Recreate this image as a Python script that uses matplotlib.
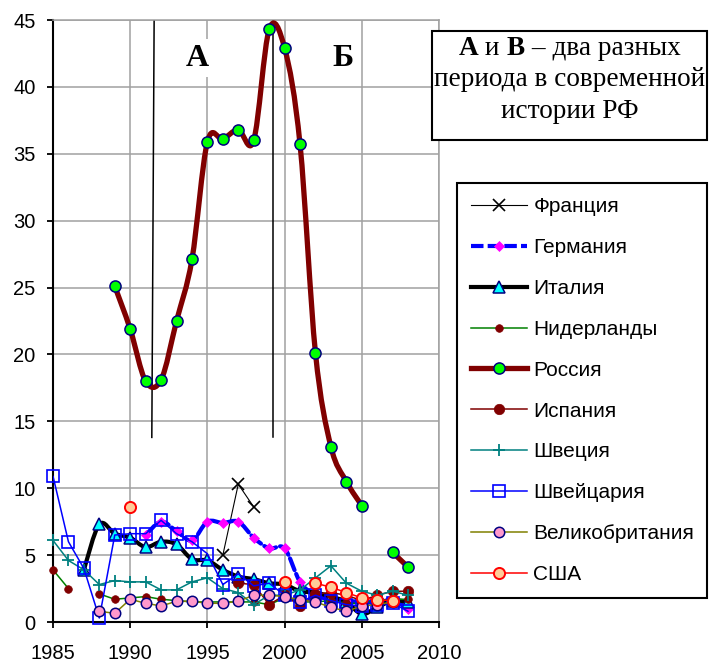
import numpy as np
import matplotlib
matplotlib.use('Agg')
import matplotlib.pyplot as plt
from matplotlib.path import Path
from matplotlib.patches import PathPatch, Rectangle
from matplotlib.lines import Line2D
from matplotlib.offsetbox import TextArea, HPacker, VPacker, AnnotationBbox

nan = np.nan
years = list(range(1985, 2009))
#           85   86   87   88   89   90   91   92   93   94   95   96   97   98   99   00   01   02   03   04   05   06   07   08
france =  [nan, nan, nan, nan, nan, nan, nan, nan, nan, nan, nan, 5.0, 10.3, 8.6, nan, nan, nan, nan, nan, nan, nan, nan, nan, nan]
germany = [nan, nan, nan, nan, nan, nan, 6.5, 7.5, 6.8, 6.1, 7.5, 7.4, 7.5, 6.3, 5.5, 5.5, 3.0, 2.0, 1.7, 1.6, 1.5, 1.5, 1.6, 1.0]
italy =   [nan, nan, 3.9, 7.3, 6.6, 6.3, 5.6, 6.0, 5.8, 4.7, 4.6, 3.9, 3.4, 3.2, 2.9, 2.8, 2.3, 2.2, 1.9, 1.5, 0.6, 1.1, 1.6, 1.5]
netherl = [3.9, 2.5, nan, 2.1, 1.7, 1.8, 1.9, 1.7, 1.6, 1.5, 1.5, 1.5, 1.5, 1.5, 1.3, 1.8, 1.5, 1.5, 1.6, 1.4, 1.4, 1.6, 1.7, 1.7]
russia =  [nan, nan, nan, nan, 25.1, 21.9, 18.0, 18.1, 22.5, 27.1, 35.9, 36.1, 36.8, 36.0, 44.3, 42.9, 35.7, 20.1, 13.1, 10.5, 8.7, nan, 5.2, 4.1]
spain =   [nan, nan, nan, nan, nan, nan, nan, nan, nan, nan, nan, nan, 2.9, 2.8, 1.3, 2.0, 1.2, 2.1, 2.2, 2.0, 1.6, 2.0, 2.3, 2.3]
sweden =  [6.1, 4.6, 3.9, 2.8, 3.1, 3.0, 3.0, 2.4, 2.4, 3.0, 3.3, 2.5, 2.2, 1.3, 2.0, 2.0, 2.4, 3.3, 4.2, 2.9, 2.3, 2.0, 2.3, 2.0]
swiss =   [10.9, 6.0, 4.0, 0.3, 6.5, 6.6, 6.6, 7.6, 6.6, 6.0, 5.1, 2.8, 3.6, 2.7, 2.9, 2.0, 1.5, 2.0, 1.6, 1.3, 1.2, 1.3, 1.4, 0.8]
uk =      [nan, nan, nan, 0.8, 0.65, 1.7, 1.4, 1.2, 1.55, 1.55, 1.4, 1.4, 1.55, 2.0, 2.0, 1.9, 1.65, 1.5, 1.1, 0.8, 1.2, 1.3, 1.5, nan]
usa =     [nan, nan, nan, nan, nan, 8.6, nan, nan, nan, nan, nan, nan, nan, nan, nan, 3.0, nan, 2.9, 2.6, 2.2, 1.8, 1.65, 1.6, nan]

labels = ['Франция', 'Германия', 'Италия', 'Нидерланды', 'Россия',
          'Испания', 'Швеция', 'Швейцария', 'Великобритания', 'США']
xticks = [1985, 1990, 1995, 2000, 2005, 2010]
yticks = [0, 5, 10, 15, 20, 25, 30, 35, 40, 45]

series = [france, germany, italy, netherl, russia, spain, sweden, swiss, uk, usa]
styles = [
    dict(color='black', lw=0.8, marker='x', ms=9, mfc='black', mec='black', mew=1.2, smooth=False, ls='-'),
    dict(color='#0000FF', lw=3.0, marker='D', ms=5.5, mfc='#FF00FF', mec='#FF00FF', mew=0.5, smooth=True, ls=(0, (3, 1))),
    dict(color='black', lw=3.0, marker='^', ms=8.5, mfc='#00FFFF', mec='#000080', mew=1.1, smooth=True, ls='-'),
    dict(color='#008000', lw=1.1, marker='o', ms=5.5, mfc='#800000', mec='#800000', mew=0.5, smooth=False, ls='-'),
    dict(color='#800000', lw=3.8, marker='o', ms=8, mfc='#00FF00', mec='#000080', mew=1.1, smooth=True, ls='-'),
    dict(color='#800000', lw=1.1, marker='o', ms=7.5, mfc='#800000', mec='#800000', mew=0.5, smooth=False, ls='-'),
    dict(color='#008080', lw=1.1, marker='+', ms=9, mfc='#008080', mec='#008080', mew=1.3, smooth=False, ls='-'),
    dict(color='#0000FF', lw=1.1, marker='s', ms=8, mfc='none', mec='#0000FF', mew=1.2, smooth=False, ls='-'),
    dict(color='#808000', lw=1.1, marker='o', ms=7.5, mfc='#FF99CC', mec='#000080', mew=1.1, smooth=False, ls='-'),
    dict(color='#FF0000', lw=1.1, marker='o', ms=8, mfc='#FFCC99', mec='#FF0000', mew=1.4, smooth=False, ls='-'),
]


def segments(x, y):
    segs, cur = [], []
    for xi, yi in zip(x, y):
        if yi is None or np.isnan(yi):
            if cur:
                segs.append(cur)
            cur = []
        else:
            cur.append((xi, yi))
    if cur:
        segs.append(cur)
    return segs


def make_path(pts, smooth):
    P = np.array(pts, float)
    n = len(P)
    if not smooth or n < 3:
        return Path(P)
    verts = [P[0]]
    codes = [Path.MOVETO]
    for i in range(n - 1):
        p0 = P[i - 1] if i > 0 else P[i]
        p1, p2 = P[i], P[i + 1]
        p3 = P[i + 2] if i + 2 < n else P[i + 1]
        verts += [p1 + (p2 - p0) / 6.0, p2 - (p3 - p1) / 6.0, p2]
        codes += [Path.CURVE4] * 3
    return Path(verts, codes)


W, H = 709, 664
fig = plt.figure(figsize=(W / 100, H / 100), dpi=100)
ax = fig.add_axes([53 / W, (H - 622) / H, (439 - 53) / W, (622 - 20) / H])
ax.set_xlim(1985, 2010)
ax.set_ylim(0, 45)
ax.set_xticks(xticks)
ax.set_yticks(yticks)
ax.grid(True, color='#A0A0A0', lw=1.1)
ax.set_axisbelow(True)
for s in ['top', 'right']:
    ax.spines[s].set_color('#A0A0A0')
    ax.spines[s].set_linewidth(1.1)
for s in ['left', 'bottom']:
    ax.spines[s].set_color('black')
    ax.spines[s].set_linewidth(1.5)
ax.tick_params(direction='out', length=4.5, width=1.3, color='black', labelsize=14.5)
ax.tick_params(axis='y', pad=8)
ax.tick_params(axis='x', pad=11)
for lab in ax.get_xticklabels() + ax.get_yticklabels():
    lab.set_fontfamily('Liberation Sans')

# period boundary lines
ax.plot([1991.55, 1991.4], [45, 13.8], color='black', lw=1.1, zorder=1.5)
ax.plot([1999.27, 1999.27], [45, 13.8], color='black', lw=1.1, zorder=1.5)

handles = []
for k, (ys, st) in enumerate(zip(series, styles)):
    z = 3 + k * 0.1
    for seg in segments(years, ys):
        if len(seg) > 1:
            patch = PathPatch(make_path(seg, st['smooth']), fill=False, edgecolor=st['color'],
                              lw=st['lw'], linestyle=st['ls'], capstyle='round', joinstyle='round',
                              zorder=z)
            ax.add_patch(patch)
    ax.plot(years, ys, linestyle='none', marker=st['marker'], ms=st['ms'], mfc=st['mfc'],
            mec=st['mec'], mew=st['mew'], zorder=z + 0.05, clip_on=False)
    handles.append(Line2D([], [], color=st['color'], lw=st['lw'], linestyle=st['ls'],
                          marker=st['marker'], ms=st['ms'], mfc=st['mfc'], mec=st['mec'], mew=st['mew']))

# period letters
for xl, txt in [(1994.33, 'А'), (2003.78, 'Б')]:
    ax.text(xl, 42.15, txt, fontfamily='Liberation Serif', fontweight='bold', fontsize=23,
            ha='center', va='center', zorder=2,
            bbox=dict(facecolor='white', edgecolor='none', pad=3.5))

# legend
leg = fig.legend(handles, labels, loc='upper left',
                 bbox_to_anchor=(457 / W, 0, (707 - 457) / W, 1 - 183 / H), mode='expand',
                 borderaxespad=0, frameon=True, fancybox=False, framealpha=1,
                 edgecolor='black', handlelength=2.69, handletextpad=0.3, borderpad=0.68,
                 labelspacing=1.05, prop={'family': 'Liberation Sans', 'size': 15})
leg.get_frame().set_linewidth(1.5)

# annotation box
fig.add_artist(Rectangle((432 / W, 1 - 140 / H), (707 - 432) / W, (140 - 31) / H,
                         transform=fig.transFigure, facecolor='white', edgecolor='black', lw=1.5,
                         zorder=5))
fs = 19.6
nprops = dict(fontfamily='Liberation Serif', fontsize=fs)
bprops = dict(fontfamily='Liberation Serif', fontsize=fs, fontweight='bold')
line1 = HPacker(children=[TextArea('А', textprops=bprops), TextArea(' и ', textprops=nprops),
                          TextArea('В', textprops=bprops), TextArea(' – два разных', textprops=nprops)],
                align='baseline', pad=0, sep=0)
line2 = TextArea('периода в современной', textprops=nprops)
line3 = TextArea('истории РФ', textprops=nprops)
vbox = VPacker(children=[line1, line2, line3], align='center', pad=0, sep=4.8)
ab = AnnotationBbox(vbox, (569.5 / W, 1 - 80 / H), xycoords='figure fraction', frameon=False,
                    box_alignment=(0.5, 0.5), zorder=6)
fig.add_artist(ab)

fig.savefig('out.png', dpi=100)
